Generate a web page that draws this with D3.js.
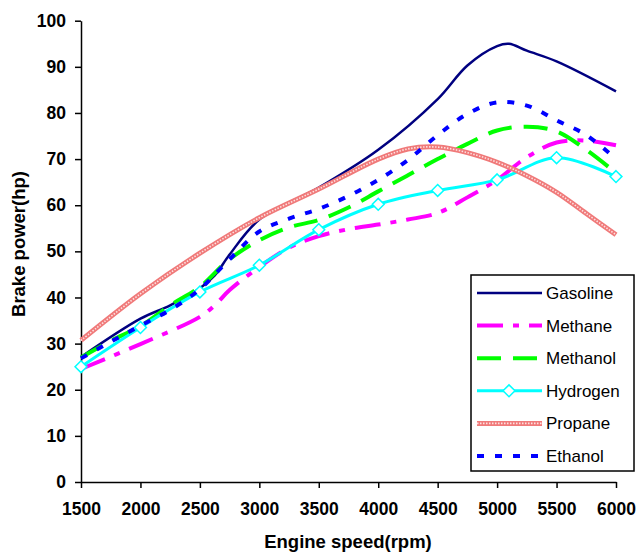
<!DOCTYPE html>
<html>
<head>
<meta charset="utf-8">
<script src="https://cdn.jsdelivr.net/npm/d3@7.9.0/dist/d3.min.js"></script>
<style>
  body { margin: 0; background: #fff; }
  svg { display: block; font-family: "Liberation Sans", Arial, sans-serif; }
</style>
</head>
<body>
<svg id="chart" width="642" height="556"></svg>
<script>
// Readings taken off the original chart (rpm, hp)
const rpmTicks = [1500, 2000, 2500, 3000, 3500, 4000, 4500, 5000, 5500, 6000];
const hpTicks = [0, 10, 20, 30, 40, 50, 60, 70, 80, 90, 100];

const gasolineRpm = [1500, 2000, 2250, 2500, 2625, 2750, 3000, 3500, 4000, 4500, 4750, 5000, 5100, 5250, 5500, 6000];
const gasolineHp  = [27.1, 35.4, 38.3, 42.0, 44.8, 49.3, 56.9, 63.8, 72.0, 83.0, 90.3, 94.5, 95.0, 93.5, 91.2, 84.7];

const methaneRpm = [1500, 2000, 2500, 2625, 2750, 3000, 3250, 3500, 3750, 4000, 4250, 4500, 4750, 5000, 5250, 5500, 5750, 6000];
const methaneHp  = [24.5, 29.9, 35.8, 38.3, 41.6, 46.6, 50.8, 53.3, 54.8, 55.8, 56.9, 58.3, 61.7, 65.5, 70.4, 73.6, 74.0, 73.0];

const methanolRpm = [1500, 1750, 2000, 2250, 2500, 2750, 3000, 3250, 3500, 3750, 4000, 4250, 4500, 4750, 5000, 5250, 5500, 5750, 6000];
const methanolHp  = [27.0, 30.6, 33.8, 38.3, 42.3, 48.3, 52.4, 55.2, 56.8, 59.5, 63.0, 66.5, 70.0, 73.3, 76.2, 77.0, 76.0, 72.0, 67.0];

const hydrogenRpm = [1500, 2000, 2500, 3000, 3500, 4000, 4500, 5000, 5500, 6000];
const hydrogenHp  = [25.0, 33.5, 41.2, 47.0, 54.7, 60.2, 63.2, 65.5, 70.3, 66.2];

const propaneRpm = [1500, 2000, 2500, 3000, 3500, 4000, 4250, 4500, 4750, 5000, 5250, 5500, 5750, 6000];
const propaneHp  = [30.7, 40.8, 49.6, 57.3, 63.5, 70.0, 72.2, 72.6, 71.4, 69.3, 66.4, 62.8, 58.2, 53.6];

const ethanolRpm = [1500, 1750, 2000, 2250, 2500, 2750, 3000, 3250, 3500, 3750, 4000, 4250, 4500, 4750, 5000, 5250, 5500, 5750, 6000];
const ethanolHp  = [26.8, 30.4, 33.9, 37.3, 41.8, 48.3, 54.3, 57.1, 59.2, 62.0, 65.5, 69.8, 75.2, 79.8, 82.3, 81.6, 78.4, 75.2, 70.0];

const seriesNames = ["Gasoline", "Methane", "Methanol", "Hydrogen", "Propane", "Ethanol"];

// Style per series
const styles = {
  Gasoline: { color: "#000080", width: 2.5, dash: null },
  Methane:  { color: "#ff00ff", width: 4, dash: "26 10 6 10" },
  Methanol: { color: "#00ff00", width: 4, dash: "24 12" },
  Hydrogen: { color: "#00ffff", width: 3, dash: null },
  Propane:  { color: "#f07a7a", width: 5, dash: null },
  Ethanol:  { color: "#0000ff", width: 4, dash: "7 11" }
};

const series = [
  { name: "Gasoline", rpm: gasolineRpm, hp: gasolineHp },
  { name: "Methane", rpm: methaneRpm, hp: methaneHp },
  { name: "Methanol", rpm: methanolRpm, hp: methanolHp },
  { name: "Hydrogen", rpm: hydrogenRpm, hp: hydrogenHp },
  { name: "Propane", rpm: propaneRpm, hp: propaneHp },
  { name: "Ethanol", rpm: ethanolRpm, hp: ethanolHp }
].map(s => ({ name: s.name, points: s.rpm.map((r, i) => [r, s.hp[i]]) }));

const svg = d3.select("#chart");

const x = d3.scaleLinear().domain([1500, 6000]).range([81, 616]);
const y = d3.scaleLinear().domain([0, 100]).range([482, 20.7]);

// Axes
const xAxis = svg.append("g")
  .attr("transform", `translate(0,${y(0)})`)
  .call(d3.axisBottom(x).tickValues(rpmTicks).tickFormat(d3.format("d"))
    .tickSize(6).tickSizeOuter(0).tickPadding(15));
const yAxis = svg.append("g")
  .attr("transform", `translate(${x(1500)},0)`)
  .call(d3.axisLeft(y).tickValues(hpTicks).tickSize(6).tickSizeOuter(0).tickPadding(9));

[xAxis, yAxis].forEach(a => {
  a.select(".domain").attr("stroke", "#000").attr("stroke-width", 1.5);
  a.selectAll(".tick line").attr("stroke", "#000").attr("stroke-width", 1.5);
  a.selectAll(".tick text")
    .attr("fill", "#000")
    .style("font-size", "17.5px")
    .style("font-weight", "bold")
    .style("font-family", "'Liberation Sans', Arial, sans-serif");
});

// Axis titles
svg.append("text")
  .attr("x", 348).attr("y", 548)
  .attr("text-anchor", "middle")
  .style("font-size", "18.5px").style("font-weight", "bold")
  .text("Engine speed(rpm)");
svg.append("text")
  .attr("transform", "translate(25,244) rotate(-90)")
  .attr("text-anchor", "middle")
  .style("font-size", "18.5px").style("font-weight", "bold")
  .text("Brake power(hp)");

// Lines
const line = d3.line()
  .x(d => x(d[0]))
  .y(d => y(d[1]))
  .curve(d3.curveCatmullRom.alpha(0.5));

const plot = svg.append("g");

function drawStroke(g, st, name, pathD) {
  g.append("path")
    .attr("d", pathD)
    .attr("fill", "none")
    .attr("stroke", st.color)
    .attr("stroke-width", st.width)
    .attr("stroke-dasharray", st.dash)
    .attr("stroke-linejoin", "round");
  // propane has a light dotted texture inside the line
  if (name === "Propane") {
    g.append("path")
      .attr("d", pathD)
      .attr("fill", "none")
      .attr("stroke", "#fde0e0")
      .attr("stroke-width", 1.6)
      .attr("stroke-dasharray", "1.5 1.5");
  }
}

series.forEach(s => {
  const st = styles[s.name];
  drawStroke(plot, st, s.name, line(s.points));
  if (s.name === "Hydrogen") {
    plot.selectAll(".diamond")
      .data(s.points)
      .join("path")
      .attr("class", "diamond")
      .attr("d", d3.symbol(d3.symbolDiamond2, 90)())
      .attr("transform", d => `translate(${x(d[0])},${y(d[1])})`)
      .attr("fill", "#fff")
      .attr("stroke", st.color)
      .attr("stroke-width", 1.5);
  }
});

// Legend
const legend = svg.append("g");
legend.append("rect")
  .attr("x", 471).attr("y", 275)
  .attr("width", 163).attr("height", 196)
  .attr("fill", "#fff")
  .attr("stroke", "#000")
  .attr("stroke-width", 1.5);

const legendY = d3.scalePoint().domain(seriesNames).range([293, 456]);

seriesNames.forEach(name => {
  const st = styles[name];
  const ly = legendY(name);
  const g = legend.append("g");
  drawStroke(g, st, name, `M477,${ly}H542`);
  if (name === "Hydrogen") {
    g.append("path")
      .attr("d", d3.symbol(d3.symbolDiamond2, 90)())
      .attr("transform", `translate(509,${ly})`)
      .attr("fill", "#fff")
      .attr("stroke", st.color)
      .attr("stroke-width", 1.5);
  }
  g.append("text")
    .attr("x", 546).attr("y", ly)
    .attr("dy", "0.35em")
    .style("font-size", "17px")
    .text(name);
});
</script>
</body>
</html>
